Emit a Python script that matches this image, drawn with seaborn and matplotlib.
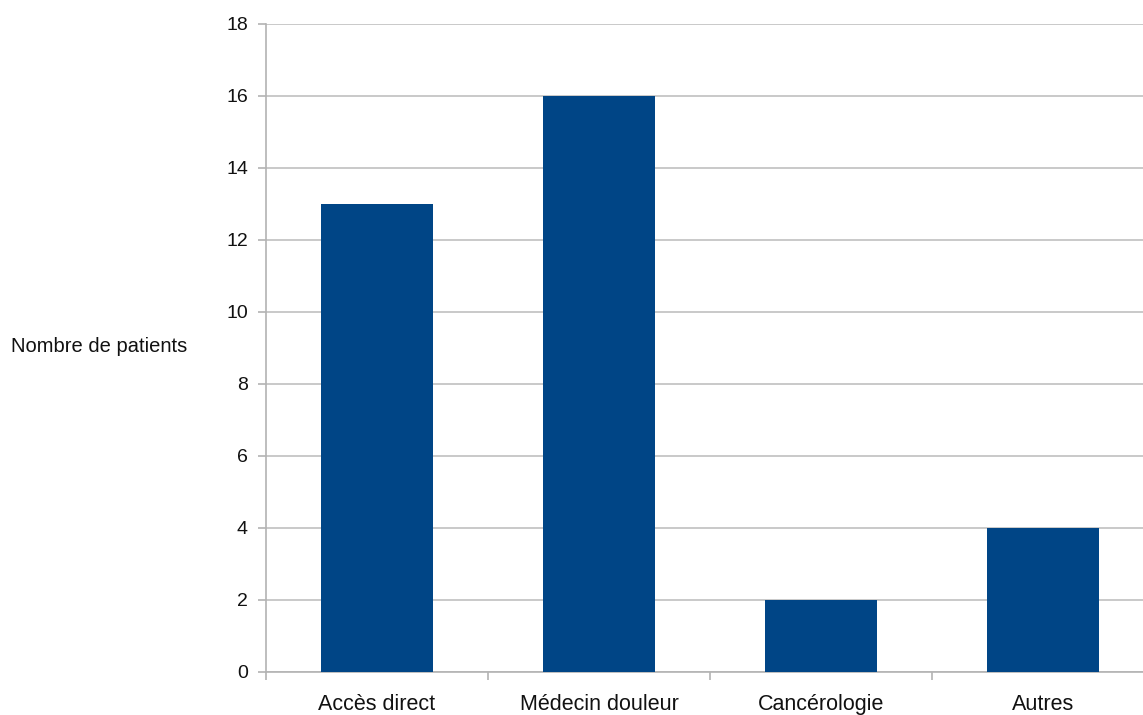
import matplotlib
matplotlib.use("Agg")
import matplotlib.pyplot as plt
import seaborn as sns
import pandas as pd

categories = ["Accès direct", "Médecin douleur", "Cancérologie", "Autres"]
values = [13, 16, 2, 4]
y_ticks = [0, 2, 4, 6, 8, 10, 12, 14, 16, 18]

sns.set_theme(style="white")
plt.rcParams['font.family'] = ['Liberation Sans', 'DejaVu Sans']

df = pd.DataFrame({"cat": categories, "val": values})

fig = plt.figure(figsize=(11.43, 7.15), dpi=100)
ax = fig.add_axes([266/1143, 1-672/715, 888/1143, (672-24)/715])

sns.barplot(data=df, x="cat", y="val", color="#004586", width=0.505,
            saturation=1, linewidth=0, ax=ax, zorder=3)

ax.set_ylim(0, 18)
ax.set_xlim(-0.5, 3.5)
ax.set_yticks(y_ticks)
ax.set_yticklabels([str(t) for t in y_ticks], fontsize=14, color="#111111")
ax.yaxis.grid(True, color="#c0c0c0", linewidth=1.2, zorder=0)
ax.set_axisbelow(True)

ax.set_xticks(range(len(categories)))
ax.set_xticklabels(categories, fontsize=15.5, color="#111111")
ax.set_xticks([-0.5, 0.5, 1.5, 2.5, 3.5], minor=True)
ax.tick_params(axis="x", which="major", length=0, pad=16)
ax.tick_params(axis="x", which="minor", length=6, width=1.2, color="#b3b3b3", direction="out", bottom=True)
ax.tick_params(axis="y", which="major", length=6, width=1.2, color="#b3b3b3", direction="out", left=True, pad=7)

for s in ["top", "right"]:
    ax.spines[s].set_visible(False)
for s in ["left", "bottom"]:
    ax.spines[s].set_color("#b3b3b3")
    ax.spines[s].set_linewidth(1.2)

ax.set_xlabel("")
ax.set_ylabel("")
fig.text(11/1143, 1-347/715, "Nombre de patients", fontsize=14.5, ha="left", va="center", color="#111111")

fig.savefig("out.png", dpi=100)
